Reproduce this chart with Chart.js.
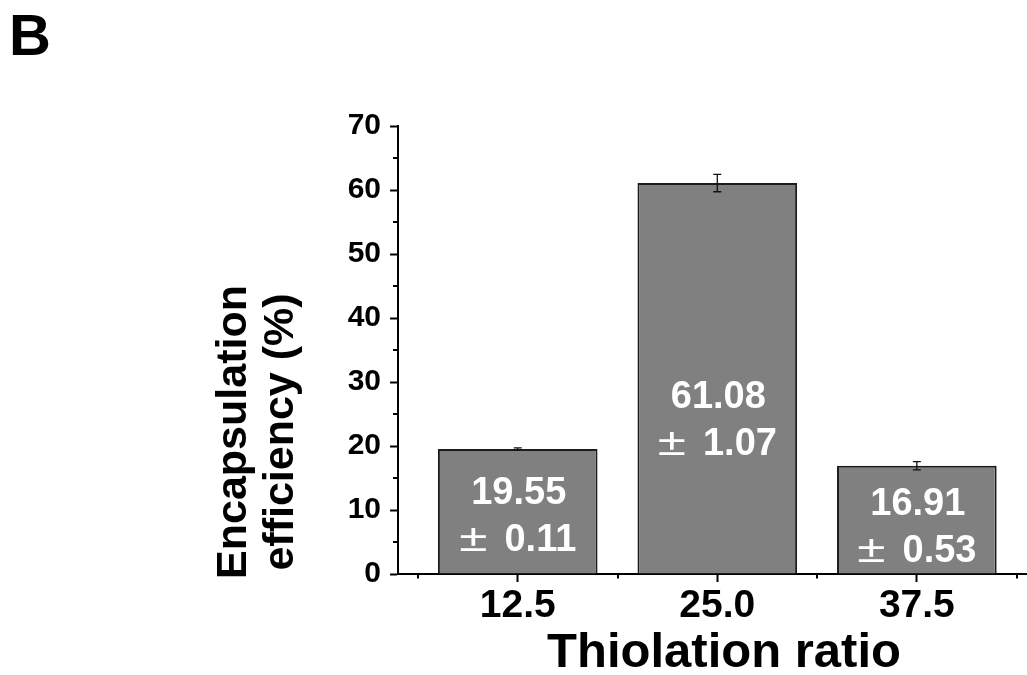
<!DOCTYPE html>
<html>
<head>
<meta charset="utf-8">
<script src="https://cdn.jsdelivr.net/npm/chart.js@4.4.1/dist/chart.umd.min.js"></script>
<style>
  html, body { margin: 0; padding: 0; background: #ffffff; overflow: hidden; }
  #wrap { width: 1027px; height: 675px; position: relative; }
</style>
</head>
<body>
<div id="wrap"><canvas id="c" width="1027" height="675"></canvas></div>
<script>
// ---- data ----
const thiolationRatio = [12.5, 25.0, 37.5];
const xTickLabels = ['12.5', '25.0', '37.5'];
const efficiency = [19.55, 61.08, 16.91];
const sdPrinted = ['0.11', '1.07', '0.53'];
const errorDrawn = [0.15, 1.35, 0.65];
const xMinorTicks = [6.25, 18.75, 31.25, 43.75];
const yMinorTicks = [5, 15, 25, 35, 45, 55, 65];
const panelLetter = 'B';
const xTitle = 'Thiolation ratio';
const yTitleLines = ['Encapsulation', 'efficiency (%)'];

// ---- layout settings ----
const FONT = '"Liberation Sans", Arial, Helvetica, sans-serif';
const labelLine1Y = [13.1, 28.1, 11.4]; // value-unit centre of first text line in each bar
const LABEL_GAP = 47;

const overlay = {
  id: 'overlay',
  afterDraw(chart) {
    const ctx = chart.ctx;
    const xs = chart.scales.x, ys = chart.scales.y;
    ctx.save();
    ctx.strokeStyle = '#000';
    ctx.lineWidth = 2;
    // minor ticks
    const bottom = ys.getPixelForValue(0);
    xMinorTicks.forEach(v => {
      const px = Math.round(xs.getPixelForValue(v));
      ctx.beginPath(); ctx.moveTo(px, bottom); ctx.lineTo(px, bottom + 4.5); ctx.stroke();
    });
    const left = xs.getPixelForValue(xs.min);
    yMinorTicks.forEach(v => {
      const py = Math.round(ys.getPixelForValue(v));
      ctx.beginPath(); ctx.moveTo(left, py); ctx.lineTo(left - 5, py); ctx.stroke();
    });
    // error bars
    ctx.lineWidth = 1.3;
    ctx.strokeStyle = '#111';
    thiolationRatio.forEach((x, i) => {
      const px = xs.getPixelForValue(x);
      const top = ys.getPixelForValue(efficiency[i] + errorDrawn[i]);
      const bot = ys.getPixelForValue(efficiency[i] - errorDrawn[i]);
      ctx.beginPath();
      ctx.moveTo(px, top); ctx.lineTo(px, bot);
      ctx.moveTo(px - 4, top); ctx.lineTo(px + 4, top);
      ctx.moveTo(px - 4, bot); ctx.lineTo(px + 4, bot);
      ctx.stroke();
    });
    // labels inside bars
    ctx.fillStyle = '#ffffff';
    ctx.textBaseline = 'alphabetic';
    const fs = 38;
    const pmScale = 1.35;
    thiolationRatio.forEach((x, i) => {
      const cx = xs.getPixelForValue(x);
      const c1 = ys.getPixelForValue(labelLine1Y[i]);
      ctx.font = 'bold ' + fs + 'px ' + FONT;
      ctx.textAlign = 'center';
      ctx.fillText(efficiency[i].toFixed(2), cx + 1, c1 + 0.358 * fs);
      // second line: ± (regular, widened) + space + value (bold)
      ctx.font = fs + 'px ' + FONT;
      const wPm = ctx.measureText('\u00B1').width * pmScale;
      ctx.font = 'bold ' + fs + 'px ' + FONT;
      const wRest = ctx.measureText('  ' + sdPrinted[i]).width;
      const start = cx + 2 - (wPm + wRest) / 2;
      const base2 = c1 + LABEL_GAP + 0.358 * fs;
      ctx.textAlign = 'left';
      ctx.save();
      ctx.translate(start, base2);
      ctx.scale(pmScale, 1);
      ctx.font = fs + 'px ' + FONT;
      ctx.fillText('\u00B1', 0, 0);
      ctx.restore();
      ctx.font = 'bold ' + fs + 'px ' + FONT;
      ctx.fillText('  ' + sdPrinted[i], start + wPm - 4, base2);
    });
    // titles
    ctx.fillStyle = '#000';
    ctx.textAlign = 'center';
    ctx.font = 'bold 49px ' + FONT;
    ctx.fillText(xTitle, 724, 667);
    ctx.save();
    ctx.translate(0, 432);
    ctx.rotate(-Math.PI / 2);
    ctx.font = 'bold 43px ' + FONT;
    ctx.fillText(yTitleLines[0], 0, 246);
    ctx.fillText(yTitleLines[1], 0, 293);
    ctx.restore();
    // panel letter
    ctx.textAlign = 'left';
    ctx.font = 'bold 58px ' + FONT;
    ctx.fillText(panelLetter, 9, 55);
    ctx.restore();
  }
};

new Chart(document.getElementById('c'), {
  type: 'bar',
  data: {
    datasets: [{
      data: thiolationRatio.map((x, i) => ({ x: x, y: efficiency[i] })),
      backgroundColor: '#808080',
      borderColor: '#1c1c1c',
      borderWidth: 2,
      categoryPercentage: 0.8,
      barPercentage: 1.0
    }]
  },
  options: {
    responsive: false,
    animation: false,
    devicePixelRatio: 1,
    layout: { padding: { left: 338, right: 0, top: 126, bottom: 51 } },
    plugins: { legend: { display: false }, tooltip: { enabled: false } },
    scales: {
      x: {
        type: 'linear',
        min: 5,
        max: 44.4,
        offset: false,
        grid: { offset: false, drawOnChartArea: false, tickLength: 8, tickWidth: 2, tickColor: '#000' },
        border: { display: true, color: '#000', width: 2 },
        afterBuildTicks: s => { s.ticks = thiolationRatio.map(v => ({ value: v })); },
        afterFit: s => { s.height = 50; },
        ticks: {
          color: '#000',
          font: { family: FONT, size: 39, weight: 'bold' },
          padding: 1,
          maxRotation: 0,
          autoSkip: false,
          callback: (v, i) => xTickLabels[i]
        }
      },
      y: {
        min: 0,
        max: 70,
        grid: { drawOnChartArea: false, tickLength: 8, tickWidth: 2, tickColor: '#000' },
        border: { display: true, color: '#000', width: 2 },
        afterFit: s => { s.width = 60; },
        ticks: {
          stepSize: 10,
          color: '#000',
          font: { family: FONT, size: 30, weight: 'bold' },
          padding: 9
        }
      }
    }
  },
  plugins: [overlay]
});
</script>
</body>
</html>
